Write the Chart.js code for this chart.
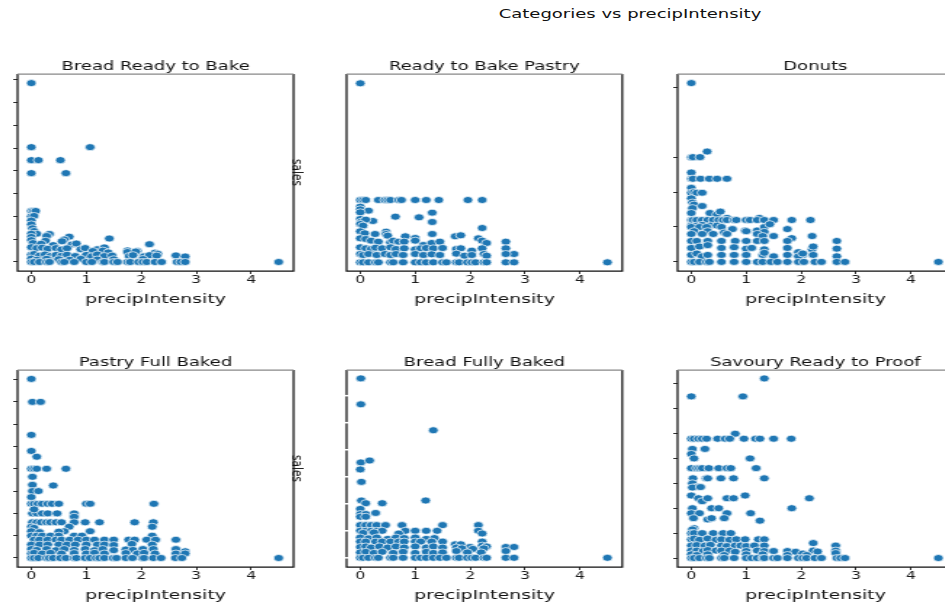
<!DOCTYPE html>
<html>
<head>
<meta charset="utf-8">
<script src="https://cdn.jsdelivr.net/npm/chart.js@4.4.1/dist/chart.umd.min.js"></script>
<style>
  html, body { margin: 0; padding: 0; background: #fff; }
  body { width: 945px; height: 606px; overflow: hidden; position: relative; }
  .panel { position: absolute; transform-origin: 0 0; }
  #suptitle {
    position: absolute; left: 630px; top: 6px; white-space: nowrap;
    font-family: 'DejaVu Sans', sans-serif; font-size: 12.4px; line-height: 16px; color: #111;
    transform: translateX(-50%) scaleX(1.4526);
  }
</style>
</head>
<body>
<div id="suptitle">Categories vs precipIntensity</div>
<canvas id="p1" class="panel"></canvas>
<canvas id="p2" class="panel"></canvas>
<canvas id="p3" class="panel"></canvas>
<canvas id="p4" class="panel"></canvas>
<canvas id="p5" class="panel"></canvas>
<canvas id="p6" class="panel"></canvas>
<script>
// [precipIntensity, sales] pairs
const breadReadyToBake = [
  [0, 78.5],
  [0, 50.4], [1.07, 50.4],
  [0, 44.7], [0.13, 44.7], [0.53, 44.7],
  [0, 39], [0.63, 39],
  [0, 22.4], [0.04, 22.4], [0.08, 22.4],
  [0, 20], [0.05, 20.2],
  [0, 18.2], [0, 16.5], [0.02, 14.8],
  [0.05, 13.6], [0.1, 12.4], [0.33, 12.3], [0.28, 11.4], [0.69, 11.1],
  [0.6, 9.9], [0.56, 9.1], [1.42, 10.3], [2.15, 7.8],
  [0, 12.4], [0, 11], [0, 9.6], [0.03, 8.3], [0.26, 9.3],
  [0.18, 8], [0.4, 7.4], [0.74, 7.7], [0.82, 8.1],
  [0, 6.5], [0.1, 6.1], [0.2, 6.3], [0.3, 5.8], [0.45, 6.1], [0.55, 5.5], [0.65, 6],
  [0.9, 5.6], [0.98, 6.1], [1.2, 5.6], [1.33, 6.4], [1.3, 5], [1.75, 5.1], [1.93, 4.8],
  [1.12, 4.8], [1.4, 4.2], [1.75, 4.4], [1.9, 4.6], [2.25, 4.1], [2.3, 3.6],
  [0, 3.2], [0.05, 3.5], [0.15, 2.8], [0.25, 3.3], [0.35, 2.6], [0.45, 3.1], [0.55, 2.7],
  [0.65, 3.2], [0.8, 2.6], [1.0, 3.1], [1.1, 2.5], [1.2, 3.3], [1.33, 2.6], [1.47, 2.8],
  [1.78, 2.6], [1.85, 3], [2.05, 2.5], [2.15, 3], [2.28, 2.8], [2.63, 2.9], [2.8, 2.4],
  [0, 1.5], [0.1, 1], [0.28, 1.4], [0.5, 1.2], [0.7, 1], [0.9, 1.4], [1.2, 1.1], [1.5, 1.2], [2.03, 1.3],
  [0, 0], [0.05, 0], [0.15, 0], [0.28, 0], [0.33, 0], [0.55, 0], [0.6, 0], [0.78, 0],
  [1.0, 0], [1.1, 0], [1.3, 0], [1.33, 0], [1.5, 0], [1.57, 0], [1.75, 0], [1.8, 0],
  [1.95, 0], [2.03, 0], [2.1, 0], [2.25, 0], [2.37, 0], [2.65, 0], [2.72, 0], [2.8, 0], [4.5, 0]
];

const readyToBakePastry = [
  [0, 53.7],
  [0, 18.7], [0.05, 18.7], [0.1, 18.7], [0.33, 18.7], [0.45, 18.7], [0.5, 18.7], [0.55, 18.7],
  [0.7, 18.7], [0.75, 18.7], [1.0, 18.7], [1.2, 18.7], [1.43, 18.7], [1.96, 18.7], [2.22, 18.7],
  [0, 16.7], [0, 15.9], [0.15, 15.5], [0, 15],
  [0.64, 13.7], [1.07, 13.5], [1.31, 14.9], [1.31, 12.1],
  [0, 13], [0.02, 12.2], [0.23, 12.4], [0.1, 12.8], [0, 11.5], [0.05, 11],
  [2.22, 10.3],
  [0, 9.3], [0.08, 8.7], [0.27, 8.5], [0.47, 9.2], [0.47, 8.5], [0.5, 8],
  [1.31, 8.5], [0.82, 7.8], [1.0, 7.3], [1.73, 7.8], [1.83, 8.1],
  [2.15, 7.2], [2.22, 6.5], [2.3, 5.8], [2.65, 6.2],
  [0, 7.2], [0.1, 7], [0.2, 6.5], [0.33, 6.2], [0.55, 6], [0.6, 6.5], [0.7, 6.2], [0.8, 6.2],
  [1.0, 6.5], [1.15, 5.2], [1.3, 5.8], [1.45, 6.2],
  [0, 4.5], [0.1, 4.2], [0.2, 4], [0.28, 4.4], [0.4, 4.2], [0.55, 4.5], [0.65, 4], [0.8, 4.2],
  [1.0, 3.9], [1.1, 4.2], [1.2, 4.3], [1.33, 4.2], [1.5, 4.3], [1.75, 4], [1.83, 4.2],
  [2.03, 3.5], [2.22, 4.2], [2.65, 4.2], [2.8, 2.5], [2.65, 2.5],
  [0, 2.5], [0.05, 2.2], [0.15, 2.5], [0.3, 2.2], [0.45, 2.5], [0.55, 2.2], [0.65, 2.5], [0.78, 2.2],
  [1.0, 2.5], [1.15, 2.2], [1.3, 2.4], [1.45, 2.2], [1.75, 2.6], [1.9, 2], [2.03, 2.2], [2.25, 2.5], [2.3, 2],
  [0, 0], [0.05, 0], [0.15, 0], [0.28, 0], [0.33, 0], [0.55, 0], [0.6, 0], [0.78, 0],
  [1.0, 0], [1.1, 0], [1.2, 0], [1.33, 0], [1.5, 0], [1.57, 0], [1.75, 0], [1.8, 0],
  [1.95, 0], [2.03, 0], [2.1, 0], [2.25, 0], [2.3, 0], [2.65, 0], [2.8, 0], [4.5, 0]
];

const donuts = [
  [0, 25.6],
  [0, 15], [0.03, 15], [0.16, 15], [0.29, 15.8],
  [0, 12.8],
  [0, 11.9], [0.03, 11.9], [0.17, 11.9], [0.33, 11.9], [0.47, 11.9], [0.65, 11.9],
  [0, 10.6], [0, 9.9], [0.05, 10], [0.1, 9.9], [0.2, 9.9],
  [0, 9.1], [0.02, 8.5], [0.05, 8.2], [0.2, 8], [0.02, 7.7], [0, 7],
  [0.34, 7], [0.47, 6.8], [0.53, 7.2], [0.65, 6.3], [1.24, 6.3],
  [0, 6], [0.03, 6], [0.1, 6], [0.2, 6], [0.3, 6], [0.4, 6], [0.5, 6], [0.58, 6], [0.65, 6],
  [0.78, 6], [0.82, 6], [1.0, 6], [1.07, 6], [1.2, 6], [1.33, 6], [1.5, 6], [1.83, 6], [2.17, 6],
  [0, 5.2], [0.1, 5.2], [0.2, 5.3], [0.35, 5.2], [0.47, 5.2],
  [0, 5], [0.15, 5], [0.28, 5], [0.55, 5], [0.75, 4.7], [0.98, 4.5], [1.2, 4.5], [1.33, 5], [1.43, 5.4],
  [1.75, 4.7],
  [0.05, 4.4], [0.3, 4.4], [0.6, 4.2], [1.0, 4.4], [1.33, 4.3], [1.5, 3.7],
  [0, 4], [0.2, 4], [0.4, 4], [0.65, 4], [1.2, 4], [1.3, 3.7], [2.2, 3.7], [1.83, 3.4],
  [0, 3], [0.1, 3], [0.3, 3], [0.55, 3], [0.8, 3], [1.0, 3], [1.2, 3], [1.33, 3], [1.75, 3], [2.65, 3],
  [0, 2], [0.15, 2.2], [0.3, 2.4], [0.55, 2], [0.78, 2.1], [1.0, 1.9], [1.1, 2], [1.33, 1.8],
  [1.75, 2], [1.95, 1.4], [2.03, 1], [2.2, 1.8], [2.22, 2.2], [2.65, 1.9],
  [0, 1], [0.1, 1.2], [0.2, 0.8], [0.3, 1], [0.55, 1], [0.78, 1], [1.0, 1], [1.3, 1], [1.33, 1.3],
  [1.5, 0.8], [1.75, 1], [1.95, 0.8], [2.03, 1.2], [2.22, 1], [2.65, 0.8],
  [0, 0], [0.05, 0], [0.15, 0], [0.28, 0], [0.33, 0], [0.55, 0], [0.78, 0], [1.0, 0], [1.2, 0],
  [1.3, 0], [1.45, 0], [1.57, 0], [1.75, 0], [1.95, 0], [2.05, 0], [2.25, 0], [2.37, 0], [2.65, 0],
  [2.8, 0], [4.5, 0]
];

const pastryFullBaked = [
  [0, 80.3],
  [0.02, 70], [0.17, 70],
  [0, 55.2], [0, 48], [0.1, 45.4],
  [0, 40], [0.05, 40], [0.1, 40], [0.28, 40], [0.63, 40],
  [0.02, 36.4], [0.02, 32.8], [0.4, 32.5], [0.02, 30], [0.13, 30], [0, 27.3],
  [0, 24.3], [0.05, 24.3], [0.12, 24.3], [0.2, 24.3], [0.3, 24.3], [0.38, 24.3], [0.5, 24.3],
  [1.0, 24.3], [1.07, 24.3], [2.23, 24.3],
  [0.02, 20], [0.1, 20], [0.2, 20], [0.3, 20], [0.47, 20], [0.78, 20], [0.05, 21.8], [0.78, 18.5],
  [0.02, 16], [0.1, 16], [0.18, 16], [0.28, 16], [0.35, 16], [0.45, 16], [0.55, 16], [0.78, 16],
  [0.98, 16], [1.24, 16], [1.88, 16], [2.22, 16],
  [0.69, 14], [2.2, 14], [0, 14], [0.05, 13.5],
  [0.6, 12], [1.07, 12], [0.5, 11.8], [0, 12], [0.15, 11.6],
  [0, 10], [0.1, 10], [0.2, 10], [0.35, 10], [0.5, 10], [0.78, 10], [0.92, 10], [2.2, 10],
  [0.05, 8.2], [0.15, 8.2], [0.3, 8.2], [0.45, 8.2], [0.55, 8.2], [0.7, 8.2], [0.85, 8.2], [1.0, 8.2],
  [1.15, 8.2], [1.33, 8.2], [1.5, 8.2], [1.77, 8.2], [1.88, 8.2], [2.1, 8.2], [2.26, 8.2], [2.63, 8.2],
  [0, 6], [0.15, 6], [0.3, 6], [0.5, 6], [0.65, 6], [0.8, 6], [1.0, 6], [1.2, 6], [1.33, 6],
  [1.5, 5.8], [1.83, 6.3], [2.2, 6],
  [0, 4], [0.1, 3.6], [0.28, 4], [0.45, 3.5], [0.6, 4], [0.78, 3.6], [0.98, 4], [1.15, 3.5], [1.3, 4],
  [1.5, 3.5], [1.72, 3.8], [1.85, 3.6], [2.03, 4], [2.22, 4], [2.63, 4], [2.8, 3],
  [0, 2], [0.05, 2.3], [0.2, 2], [0.35, 2.3], [0.55, 2], [0.78, 2.2], [1.0, 2], [1.15, 2.3], [1.33, 2],
  [1.72, 2.2], [1.93, 2], [2.05, 2.3], [2.25, 2], [2.63, 2], [2.8, 2],
  [0, 0], [0.05, 0], [0.13, 0], [0.28, 0], [0.33, 0], [0.4, 0], [0.53, 0], [0.63, 0], [0.78, 0],
  [0.82, 0], [0.98, 0], [1.07, 0], [1.18, 0], [1.24, 0], [1.33, 0], [1.49, 0], [1.55, 0], [1.72, 0],
  [1.84, 0], [2.02, 0], [2.05, 0], [2.22, 0], [2.36, 0], [2.62, 0], [2.74, 0], [4.5, 0]
];

const breadFullyBaked = [
  [0.01, 66.4], [0.01, 56.8], [1.33, 47.2], [0.01, 35.3], [0.17, 36], [0, 32.7], [0.02, 28.1],
  [0.02, 21.2], [0.1, 20.2], [0.4, 20.2], [1.19, 21.2], [0, 18.1],
  [0, 16.2], [0.1, 16.2], [0.28, 16.6], [0, 15.2], [0.1, 15.2],
  [0, 12.1], [0.1, 12.1], [0.2, 12.1], [0.3, 12.1], [0.46, 12.1], [0.76, 12.1], [1.5, 12.1], [2.15, 12.1],
  [0, 10], [0.1, 10], [0.2, 10], [0.3, 10], [0.4, 10], [0.82, 10], [1.0, 10], [1.2, 10], [1.4, 10], [2.15, 10],
  [0.7, 9], [2.22, 9], [0.05, 9.2], [0.25, 9.4],
  [0, 7.5], [0.15, 7.2], [0.3, 7.5], [0.5, 7], [0.65, 7.5], [0.8, 7.3], [1.0, 7.5], [1.2, 7], [1.35, 7.3],
  [0, 6], [0.1, 6], [0.28, 6], [0.4, 6], [0.55, 6], [0.7, 6], [0.8, 6], [1.0, 6], [1.1, 6], [1.3, 6],
  [1.5, 6], [2.22, 6],
  [1.73, 5], [1.83, 5], [2.0, 4], [2.65, 4], [2.8, 4], [2.22, 4.5], [2.3, 4.2],
  [0, 4], [0.1, 4.2], [0.2, 3.8], [0.35, 4.2], [0.5, 3.8], [0.65, 4.2], [0.8, 3.8], [1.0, 4.2], [1.2, 3.8],
  [1.33, 4.2], [1.5, 3.8], [1.75, 3.8], [1.85, 3.5], [2.05, 3.3], [2.25, 3.5],
  [0, 2], [0.1, 2.2], [0.25, 1.8], [0.4, 2.2], [0.6, 1.8], [0.78, 2.2], [1.0, 1.8], [1.2, 2.2], [1.33, 1.8],
  [1.5, 2], [1.75, 2.5], [1.95, 2], [2.2, 2], [2.65, 2.5],
  [0, 0], [0.05, 0], [0.15, 0], [0.28, 0], [0.33, 0], [0.55, 0], [0.6, 0], [0.78, 0], [1.0, 0],
  [1.1, 0], [1.2, 0], [1.33, 0], [1.45, 0], [1.57, 0], [1.75, 0], [1.8, 0], [1.95, 0], [2.03, 0],
  [2.1, 0], [2.25, 0], [2.3, 0], [2.65, 0], [2.8, 0], [4.5, 0]
];

const savouryReadyToProof = [
  [1.33, 72.1], [0, 64.9], [0.94, 64.9], [0.8, 49.9],
  [0, 47.9], [0.05, 47.9], [0.13, 47.9], [0.2, 47.9], [0.28, 47.9], [0.48, 47.9], [0.62, 47.9],
  [0.7, 47.9], [0.96, 47.9], [1.17, 47.9], [1.25, 47.9], [1.5, 47.9], [1.82, 47.9],
  [0.02, 43.8], [0.25, 43.8], [0, 41.8], [0.05, 40], [1.07, 40],
  [0, 36.1], [0.1, 36.1], [0.15, 36.1], [0.2, 36.1], [0.32, 36.1], [0.5, 36.1], [0.65, 36.1],
  [0.72, 36.1], [1.18, 36.1],
  [0.03, 32], [0.27, 32], [0.3, 32], [0.54, 32], [0.77, 32], [1.33, 32],
  [0.02, 30], [0.1, 28.6], [0.02, 28.3], [0.17, 28.5],
  [0, 25.1], [0.13, 24], [0.2, 22.8], [0.3, 24], [0.65, 24], [0.77, 24], [0.98, 25.1], [2.15, 24],
  [0.02, 20], [0.37, 20], [0.5, 20], [1.83, 20],
  [0, 18], [0.15, 18], [0.65, 18], [1.08, 18],
  [0.04, 16], [0.3, 15.5], [0.37, 16], [0.6, 16], [1.25, 15],
  [0.05, 12], [0.02, 11.5],
  [0, 10], [0.05, 10], [0.2, 10], [0.4, 10], [0.58, 10], [0.72, 10],
  [0, 7.5], [0.05, 7.8], [0.15, 7.3], [0.3, 7.8], [0.45, 7.3], [0.55, 7.5], [0.7, 7.3], [0.82, 7.5],
  [0.98, 7.5], [1.22, 7.5], [1.33, 7.5],
  [2.22, 6], [2.63, 5],
  [0, 5], [0.1, 5.2], [0.25, 5], [0.35, 5.3], [0.55, 5], [0.65, 4.8], [0.8, 5], [0.9, 5], [1.0, 4.8],
  [1.15, 5], [1.33, 5],
  [0, 3], [0.1, 3], [0.22, 2.8], [0.3, 3.2], [0.45, 3], [0.55, 3], [0.7, 3], [0.8, 2.5], [1.0, 2.8],
  [1.2, 3], [1.33, 2.8], [1.5, 2.8], [1.75, 2.8], [1.9, 2.5], [2.03, 1.8], [2.22, 3], [2.3, 2.6],
  [2.63, 3], [2.63, 2],
  [0, 1.5], [0.1, 1.2], [0.3, 1.5], [0.6, 1.2], [1.0, 1.5], [1.3, 1.5], [1.75, 1.2], [2.1, 1.2],
  [0, 0], [0.05, 0], [0.15, 0], [0.28, 0], [0.33, 0], [0.55, 0], [0.6, 0], [0.78, 0], [1.0, 0],
  [1.1, 0], [1.2, 0], [1.3, 0], [1.33, 0], [1.5, 0], [1.57, 0], [1.75, 0], [1.95, 0], [2.03, 0],
  [2.1, 0], [2.25, 0], [2.37, 0], [2.65, 0], [2.72, 0], [2.8, 0], [4.5, 0]
];

const xTitle = 'precipIntensity';
const yTitle = 'sales';

const FONT = "'DejaVu Sans', sans-serif";
// the reference figure is stretched sideways, so every panel is drawn narrow and scaled
const STRETCH = 276 / 190;
const AREA_W = 276;
const AREA_H = 197;
const Y_AXIS_W = 10;
const TITLE_H = 21;
const X_AXIS_H = 40;

const panels = [
  { id: 'p1', title: 'Bread Ready to Bake', data: breadReadyToBake, left: 18, top: 74,
    yMin: -3.95, yMax: 82.5, yStep: 10, tickMarks: 'dark', sideLabel: true },
  { id: 'p2', title: 'Ready to Bake Pastry', data: readyToBakePastry, left: 347, top: 74,
    yMin: -2.6, yMax: 56.5, yStep: 10, tickMarks: 'none' },
  { id: 'p3', title: 'Donuts', data: donuts, left: 678, top: 74,
    yMin: -1.3, yMax: 26.9, yStep: 5, tickMarks: 'dark', hiddenTick: 20 },
  { id: 'p4', title: 'Pastry Full Baked', data: pastryFullBaked, left: 18, top: 370,
    yMin: -4.04, yMax: 84.3, yStep: 10, tickMarks: 'dark', sideLabel: true },
  { id: 'p5', title: 'Bread Fully Baked', data: breadFullyBaked, left: 347, top: 370,
    yMin: -3.4, yMax: 69.5, yStep: 10, tickMarks: 'white' },
  { id: 'p6', title: 'Savoury Ready to Proof', data: savouryReadyToProof, left: 678, top: 370,
    yMin: -3.6, yMax: 75.5, yStep: 10, tickMarks: 'dark' }
];

const framePlugin = {
  id: 'frame',
  afterDatasetsDraw(chart, args, opts) {
    const { ctx, chartArea: a } = chart;
    ctx.save();
    ctx.lineWidth = 1.25;
    ctx.strokeStyle = '#111111';
    ctx.beginPath();
    ctx.moveTo(a.left, a.top);
    ctx.lineTo(a.left, a.bottom);
    ctx.lineTo(a.right, a.bottom);
    ctx.lineTo(a.right, a.top);
    ctx.stroke();
    ctx.strokeStyle = '#888888';
    ctx.beginPath();
    ctx.moveTo(a.left, a.top);
    ctx.lineTo(a.right, a.top);
    ctx.stroke();

    if (opts.whiteTicks) {
      const yScale = chart.scales.y;
      ctx.strokeStyle = '#ffffff';
      ctx.lineWidth = 1.5;
      yScale.ticks.forEach((t) => {
        const py = yScale.getPixelForValue(t.value);
        ctx.beginPath();
        ctx.moveTo(a.left - 3, py);
        ctx.lineTo(a.left + 1, py);
        ctx.stroke();
      });
    }

    if (opts.sideLabel) {
      ctx.translate(a.right + 2, (a.top + a.bottom) / 2);
      ctx.rotate(Math.PI / 2);
      ctx.fillStyle = '#111';
      ctx.font = '10.5px ' + FONT;
      ctx.textAlign = 'center';
      ctx.textBaseline = 'middle';
      ctx.fillText(opts.sideLabel, 0, 0);
    }
    ctx.restore();
  }
};

function makePanel(p) {
  const canvas = document.getElementById(p.id);
  const rightPad = p.sideLabel ? 12 : 4;
  const w = Y_AXIS_W + AREA_W / STRETCH + rightPad;
  const h = TITLE_H + AREA_H + X_AXIS_H;
  canvas.width = w;
  canvas.height = h;
  canvas.style.width = w + 'px';
  canvas.style.height = h + 'px';
  canvas.style.left = (p.left - Y_AXIS_W * STRETCH) + 'px';
  canvas.style.top = (p.top - TITLE_H) + 'px';
  canvas.style.transform = 'scaleX(' + STRETCH + ')';

  return new Chart(canvas, {
    type: 'scatter',
    data: {
      datasets: [{
        data: p.data.map(([x, y]) => ({ x, y })),
        backgroundColor: '#1f77b4',
        borderColor: '#ffffff',
        borderWidth: 0.7,
        pointRadius: 3.5,
        pointHoverRadius: 3.5
      }]
    },
    options: {
      responsive: false,
      animation: false,
      devicePixelRatio: 1,
      layout: { padding: { left: 0, right: rightPad, top: 0, bottom: 0 } },
      plugins: {
        legend: { display: false },
        tooltip: { enabled: false },
        title: {
          display: true,
          text: p.title,
          fullSize: false,
          color: '#111',
          font: { family: FONT, size: 12.4, weight: 'normal', lineHeight: 1.2 },
          padding: { top: 6, bottom: 0.12 }
        },
        frame: {
          whiteTicks: p.tickMarks === 'white',
          sideLabel: p.sideLabel ? yTitle : null
        }
      },
      scales: {
        x: {
          type: 'linear',
          min: -0.25,
          max: 4.77,
          afterFit: (s) => { s.height = X_AXIS_H; },
          border: { display: false },
          grid: { drawOnChartArea: false, drawTicks: true, tickLength: 3, color: '#333' },
          ticks: {
            stepSize: 1,
            includeBounds: false,
            padding: 0,
            maxRotation: 0,
            autoSkip: false,
            color: '#1a1a1a',
            font: { family: FONT, size: 10.8 }
          },
          title: {
            display: true,
            text: xTitle,
            color: '#111',
            font: { family: FONT, size: 13 },
            padding: { top: 0, bottom: 3.6 }
          }
        },
        y: {
          type: 'linear',
          min: p.yMin,
          max: p.yMax,
          afterFit: (s) => { s.width = Y_AXIS_W; },
          border: { display: false },
          grid: {
            display: p.tickMarks === 'dark',
            drawOnChartArea: false,
            tickLength: 3,
            color: (c) => (c.tick && c.tick.value === p.hiddenTick ? 'rgba(0,0,0,0)' : '#333')
          },
          ticks: { stepSize: p.yStep, includeBounds: false, padding: 0, callback: () => '' }
        }
      }
    },
    plugins: [framePlugin]
  });
}

panels.forEach(makePanel);
</script>
</body>
</html>
